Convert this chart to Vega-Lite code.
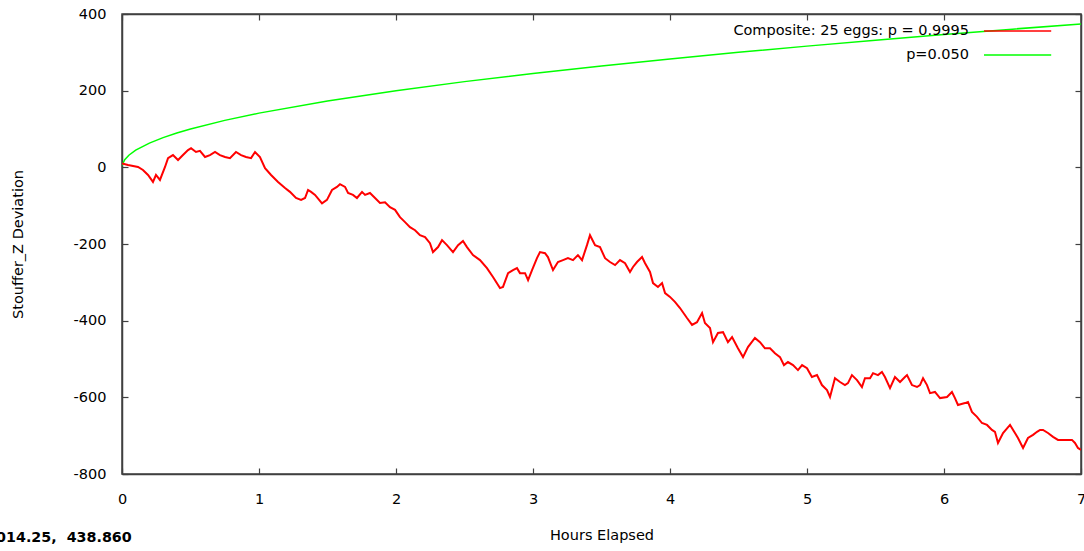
{
  "$schema": "https://vega.github.io/schema/vega-lite/v6.json",
  "width": 959,
  "height": 460,
  "autosize": "none",
  "padding": {"left": 122, "top": 14, "right": 3, "bottom": 77},
  "background": "white",
  "title": {"text": "014.25,\u00a0 438.860", "orient": "bottom", "anchor": "start", "frame": "bounds", "font": "DejaVu Sans", "fontWeight": "bold", "fontSize": 14.3, "color": "#000000", "offset": -11, "dx": -14},
  "datasets": {
    "red": [{"h":0,"z":10},{"h":0.044,"z":6},{"h":0.117,"z":1},{"h":0.153,"z":-7},{"h":0.19,"z":-20},{"h":0.226,"z":-38},{"h":0.248,"z":-20},{"h":0.277,"z":-33},{"h":0.314,"z":1},{"h":0.336,"z":24},{"h":0.372,"z":32},{"h":0.409,"z":19},{"h":0.445,"z":32},{"h":0.482,"z":45},{"h":0.504,"z":50},{"h":0.54,"z":40},{"h":0.569,"z":43},{"h":0.606,"z":27},{"h":0.642,"z":32},{"h":0.679,"z":40},{"h":0.715,"z":32},{"h":0.752,"z":27},{"h":0.788,"z":24},{"h":0.832,"z":40},{"h":0.869,"z":32},{"h":0.905,"z":27},{"h":0.942,"z":24},{"h":0.971,"z":40},{"h":1.007,"z":27},{"h":1.044,"z":-2},{"h":1.088,"z":-20},{"h":1.139,"z":-38},{"h":1.19,"z":-54},{"h":1.226,"z":-64},{"h":1.27,"z":-80},{"h":1.307,"z":-85},{"h":1.336,"z":-80},{"h":1.358,"z":-59},{"h":1.38,"z":-64},{"h":1.409,"z":-72},{"h":1.46,"z":-94},{"h":1.496,"z":-85},{"h":1.533,"z":-59},{"h":1.569,"z":-51},{"h":1.591,"z":-44},{"h":1.628,"z":-51},{"h":1.65,"z":-67},{"h":1.686,"z":-72},{"h":1.715,"z":-80},{"h":1.752,"z":-64},{"h":1.774,"z":-72},{"h":1.81,"z":-67},{"h":1.847,"z":-80},{"h":1.883,"z":-93},{"h":1.92,"z":-91},{"h":1.956,"z":-104},{"h":1.993,"z":-111},{"h":2.029,"z":-130},{"h":2.066,"z":-143},{"h":2.102,"z":-156},{"h":2.139,"z":-164},{"h":2.175,"z":-177},{"h":2.212,"z":-182},{"h":2.248,"z":-198},{"h":2.27,"z":-221},{"h":2.307,"z":-208},{"h":2.336,"z":-190},{"h":2.372,"z":-203},{"h":2.416,"z":-221},{"h":2.453,"z":-203},{"h":2.489,"z":-192},{"h":2.518,"z":-208},{"h":2.562,"z":-229},{"h":2.613,"z":-242},{"h":2.664,"z":-263},{"h":2.708,"z":-286},{"h":2.759,"z":-315},{"h":2.781,"z":-312},{"h":2.818,"z":-276},{"h":2.854,"z":-268},{"h":2.883,"z":-263},{"h":2.905,"z":-276},{"h":2.942,"z":-276},{"h":2.964,"z":-294},{"h":2.993,"z":-268},{"h":3.029,"z":-237},{"h":3.051,"z":-221},{"h":3.088,"z":-224},{"h":3.109,"z":-234},{"h":3.146,"z":-268},{"h":3.182,"z":-247},{"h":3.219,"z":-242},{"h":3.255,"z":-237},{"h":3.292,"z":-242},{"h":3.328,"z":-229},{"h":3.358,"z":-242},{"h":3.394,"z":-203},{"h":3.416,"z":-177},{"h":3.453,"z":-203},{"h":3.489,"z":-208},{"h":3.526,"z":-237},{"h":3.562,"z":-247},{"h":3.599,"z":-255},{"h":3.635,"z":-242},{"h":3.672,"z":-250},{"h":3.708,"z":-273},{"h":3.73,"z":-260},{"h":3.759,"z":-247},{"h":3.796,"z":-234},{"h":3.818,"z":-250},{"h":3.854,"z":-273},{"h":3.876,"z":-302},{"h":3.912,"z":-312},{"h":3.942,"z":-302},{"h":3.964,"z":-328},{"h":4,"z":-338},{"h":4.036,"z":-351},{"h":4.073,"z":-367},{"h":4.124,"z":-393},{"h":4.161,"z":-411},{"h":4.197,"z":-404},{"h":4.234,"z":-380},{"h":4.255,"z":-406},{"h":4.292,"z":-419},{"h":4.314,"z":-456},{"h":4.35,"z":-432},{"h":4.387,"z":-430},{"h":4.423,"z":-456},{"h":4.453,"z":-443},{"h":4.496,"z":-472},{"h":4.533,"z":-495},{"h":4.569,"z":-469},{"h":4.62,"z":-445},{"h":4.657,"z":-456},{"h":4.693,"z":-472},{"h":4.73,"z":-472},{"h":4.766,"z":-485},{"h":4.803,"z":-495},{"h":4.832,"z":-516},{"h":4.861,"z":-508},{"h":4.898,"z":-516},{"h":4.934,"z":-529},{"h":4.964,"z":-516},{"h":5,"z":-524},{"h":5.036,"z":-547},{"h":5.073,"z":-542},{"h":5.109,"z":-568},{"h":5.146,"z":-581},{"h":5.168,"z":-599},{"h":5.204,"z":-550},{"h":5.241,"z":-560},{"h":5.277,"z":-568},{"h":5.299,"z":-563},{"h":5.328,"z":-542},{"h":5.365,"z":-555},{"h":5.401,"z":-573},{"h":5.423,"z":-550},{"h":5.46,"z":-550},{"h":5.482,"z":-537},{"h":5.518,"z":-542},{"h":5.547,"z":-534},{"h":5.569,"z":-547},{"h":5.606,"z":-576},{"h":5.642,"z":-547},{"h":5.679,"z":-560},{"h":5.715,"z":-547},{"h":5.73,"z":-542},{"h":5.766,"z":-568},{"h":5.803,"z":-573},{"h":5.825,"z":-568},{"h":5.847,"z":-550},{"h":5.876,"z":-568},{"h":5.898,"z":-589},{"h":5.934,"z":-586},{"h":5.971,"z":-602},{"h":6.022,"z":-599},{"h":6.058,"z":-586},{"h":6.08,"z":-602},{"h":6.102,"z":-620},{"h":6.153,"z":-615},{"h":6.175,"z":-612},{"h":6.204,"z":-638},{"h":6.241,"z":-651},{"h":6.277,"z":-667},{"h":6.314,"z":-672},{"h":6.35,"z":-685},{"h":6.372,"z":-690},{"h":6.394,"z":-719},{"h":6.431,"z":-693},{"h":6.482,"z":-672},{"h":6.518,"z":-693},{"h":6.54,"z":-706},{"h":6.577,"z":-732},{"h":6.613,"z":-706},{"h":6.65,"z":-698},{"h":6.679,"z":-690},{"h":6.701,"z":-685},{"h":6.723,"z":-685},{"h":6.759,"z":-693},{"h":6.796,"z":-703},{"h":6.832,"z":-711},{"h":6.869,"z":-711},{"h":6.898,"z":-711},{"h":6.934,"z":-711},{"h":6.956,"z":-719},{"h":6.978,"z":-732},{"h":7,"z":-737}],
    "green": [{"h":0,"z":5},{"h":0.02,"z":20},{"h":0.05,"z":31.6},{"h":0.1,"z":44.7},{"h":0.2,"z":63.2},{"h":0.3,"z":77.4},{"h":0.4,"z":89.4},{"h":0.5,"z":100},{"h":0.75,"z":122.5},{"h":1,"z":141.4},{"h":1.5,"z":173.2},{"h":2,"z":200},{"h":2.5,"z":223.6},{"h":3,"z":244.9},{"h":3.5,"z":264.6},{"h":4,"z":282.8},{"h":4.5,"z":300},{"h":5,"z":316.2},{"h":5.5,"z":331.6},{"h":6,"z":346.4},{"h":6.5,"z":360.5},{"h":7,"z":374.1}]
  },
  "layer": [
    {
      "data": {"name": "green"},
      "mark": {"type": "line", "strokeWidth": 1.5, "clip": true},
      "encoding": {
        "x": {"field": "h", "type": "quantitative", "scale": {"domain": [0, 7], "nice": false},
              "axis": {"orient": "top", "labels": false, "title": null, "values": [0,1,2,3,4,5,6,7]}},
        "y": {"field": "z", "type": "quantitative", "scale": {"domain": [-800, 400], "nice": false},
              "axis": {"orient": "right", "labels": false, "title": null, "values": [-800,-600,-400,-200,0,200,400]}},
        "color": {"datum": "p=0.050", "scale": {"domain": ["Composite: 25 eggs: p = 0.9995", "p=0.050"], "range": ["#ff0000", "#00ff00"]}}
      }
    },
    {
      "data": {"name": "red"},
      "mark": {"type": "line", "strokeWidth": 2, "clip": true},
      "encoding": {
        "x": {"field": "h", "type": "quantitative",
              "axis": {"orient": "bottom", "title": "Hours Elapsed", "values": [0,1,2,3,4,5,6,7], "format": "d", "labelPadding": 24, "titlePadding": 23}},
        "y": {"field": "z", "type": "quantitative",
              "axis": {"orient": "left", "title": "Stouffer_Z Deviation", "values": [-800,-600,-400,-200,0,200,400], "labelExpr": "'' + datum.value", "labelPadding": 22, "titlePadding": 48}},
        "color": {"datum": "Composite: 25 eggs: p = 0.9995"}
      }
    }
  ],
  "resolve": {"scale": {"color": "shared"}},
  "encoding": {},
  "config": {
    "font": "DejaVu Sans",
    "view": {"stroke": "#404040", "strokeWidth": 1.5},
    "axis": {
      "grid": false,
      "domainColor": "#404040",
      "domainWidth": 1.5,
      "tickColor": "#404040",
      "tickSize": -6,
      "tickWidth": 1.2,
      "labelFont": "DejaVu Sans",
      "labelFontSize": 14.5,
      "labelColor": "#000000",
      "titleFont": "DejaVu Sans",
      "titleFontSize": 14.5,
      "titleFontWeight": "normal",
      "titleColor": "#000000",
      "labelFlush": false,
      "labelOverlap": false
    },
    "legend": {
      "orient": "none",
      "legendX": 882.6,
      "legendY": 4,
      "padding": 0,
      "title": null,
      "symbolType": "M-2.8,0H2.8",
      "symbolSize": 576,
      "symbolStrokeWidth": 1.5,
      "rowPadding": 4,
      "labelAlign": "right",
      "labelOffset": -61.6,
      "labelLimit": 0,
      "labelFont": "DejaVu Sans",
      "labelFontSize": 14.5,
      "labelColor": "#000000"
    }
  }
}
